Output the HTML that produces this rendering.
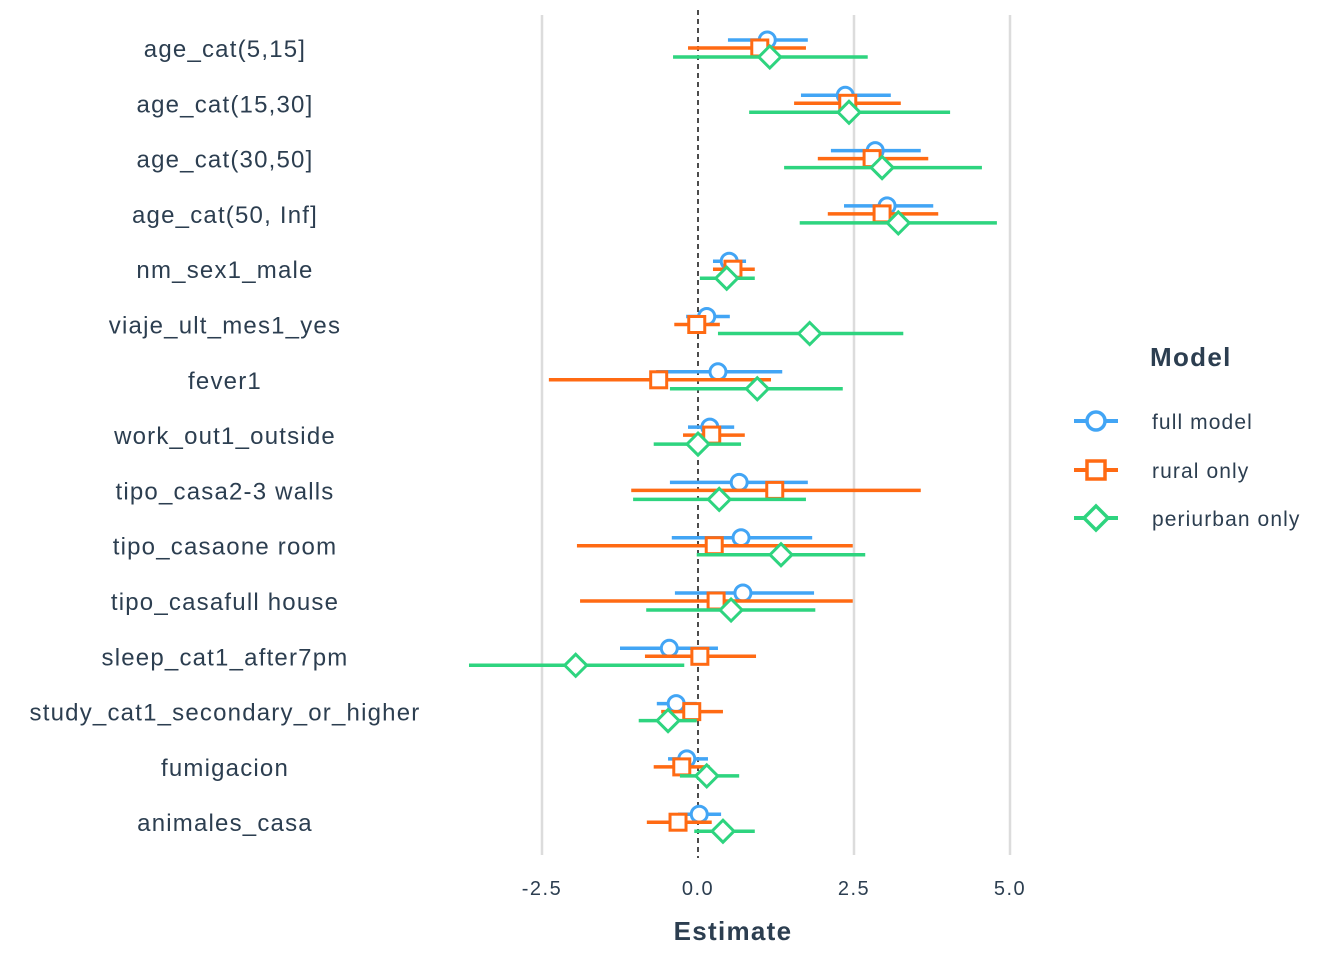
<!DOCTYPE html>
<html><head><meta charset="utf-8"><style>
body{margin:0;background:#fff;}
svg text{font-family:"Liberation Sans",Arial,sans-serif;fill:#2c3e50;}
</style></head><body>
<svg id="chart" width="1344" height="960" xmlns="http://www.w3.org/2000/svg">
<g id="grid"></g><g id="marks"></g><g id="labels"></g>
<text x="733" y="940" text-anchor="middle" font-size="26" font-weight="bold" letter-spacing="1.3">Estimate</text>
<g>
<text x="1150" y="366" font-size="26" font-weight="bold" letter-spacing="1.3">Model</text>
<g>
<line x1="1074" y1="421" x2="1118" y2="421" stroke="#42a5f5" stroke-width="4"/>
<circle cx="1096" cy="421" r="9" fill="#fff" stroke="#42a5f5" stroke-width="3.5"/>
<text x="1152" y="429" font-size="21" letter-spacing="1.1">full model</text></g>
<g>
<line x1="1074" y1="470" x2="1118" y2="470" stroke="#ff6a13" stroke-width="4"/>
<rect x="1087" y="461" width="18" height="18" fill="#fff" stroke="#ff6a13" stroke-width="3.5"/>
<text x="1152" y="478" font-size="21" letter-spacing="1.1">rural only</text></g>
<g>
<line x1="1074" y1="518" x2="1118" y2="518" stroke="#2ed47f" stroke-width="4"/>
<path d="M1096 506 L1108 518 L1096 530 L1084 518 Z" fill="#fff" stroke="#2ed47f" stroke-width="3.5"/>
<text x="1152" y="526" font-size="21" letter-spacing="1.1">periurban only</text></g>
</g>
</svg>
<script>
const terms=["age_cat(5,15]","age_cat(15,30]","age_cat(30,50]","age_cat(50, Inf]","nm_sex1_male","viaje_ult_mes1_yes","fever1","work_out1_outside","tipo_casa2-3 walls","tipo_casaone room","tipo_casafull house","sleep_cat1_after7pm","study_cat1_secondary_or_higher","fumigacion","animales_casa"];
const fullEst=[1.11,2.36,2.84,3.03,0.50,0.14,0.32,0.19,0.66,0.69,0.72,-0.46,-0.35,-0.18,0.02];
const fullLo=[0.48,1.65,2.13,2.34,0.24,-0.19,-0.67,-0.16,-0.45,-0.42,-0.37,-1.25,-0.66,-0.48,-0.32];
const fullHi=[1.76,3.09,3.57,3.77,0.77,0.51,1.35,0.58,1.76,1.83,1.86,0.32,-0.02,0.16,0.37];
const ruralEst=[0.99,2.40,2.79,2.95,0.56,-0.02,-0.63,0.22,1.23,0.26,0.29,0.03,-0.10,-0.26,-0.32];
const ruralLo=[-0.16,1.54,1.92,2.08,0.24,-0.38,-2.39,-0.24,-1.07,-1.94,-1.89,-0.85,-0.59,-0.71,-0.82];
const ruralHi=[1.73,3.25,3.69,3.85,0.91,0.35,1.17,0.75,3.57,2.48,2.48,0.93,0.40,0.19,0.22];
const periEst=[1.15,2.42,2.95,3.21,0.46,1.79,0.95,0.00,0.34,1.33,0.53,-1.96,-0.48,0.14,0.40];
const periLo=[-0.40,0.82,1.38,1.63,0.03,0.32,-0.45,-0.71,-1.04,-0.02,-0.83,-3.67,-0.95,-0.29,-0.06];
const periHi=[2.72,4.04,4.55,4.79,0.91,3.29,2.32,0.69,1.73,2.68,1.88,-0.22,-0.02,0.66,0.91];
const xTicks=[-2.5,0,2.5,5];
const xTickLabels=["-2.5","0.0","2.5","5.0"];
const NS="http://www.w3.org/2000/svg";
const x=v=>698+v*62.4;
const y=i=>49+i*55.3;
function mk(t,a,p){const e=document.createElementNS(NS,t);for(const k in a)e.setAttribute(k,a[k]);p.appendChild(e);return e;}
const grid=document.getElementById('grid'),marks=document.getElementById('marks'),labels=document.getElementById('labels');
xTicks.forEach((t,i)=>{
 if(t!==0){const g=mk('line',{x1:x(t),x2:x(t),y1:15,y2:855,stroke:'#dcdcdc','stroke-width':2.5},grid);
 
 }
 const tl=mk('text',{x:x(t),y:895,'text-anchor':'middle','font-size':20,'letter-spacing':1.5},labels);tl.textContent=xTickLabels[i];
 
 
});
const zl=mk('line',{x1:x(0),x2:x(0),y1:10,y2:858,stroke:'#111','stroke-width':1.5,'stroke-dasharray':'5,4'},grid);


terms.forEach((t,i)=>{
 const tl=mk('text',{x:225,y:y(i)+8,'text-anchor':'middle','font-size':24,'letter-spacing':1.2},labels);tl.textContent=t;
 
 
});
const series=[
 {est:fullEst,lo:fullLo,hi:fullHi,c:'#42a5f5',off:-9,shape:'circle',name:'full-model'},
 {est:ruralEst,lo:ruralLo,hi:ruralHi,c:'#ff6a13',off:-1,shape:'square',name:'rural-only'},
 {est:periEst,lo:periLo,hi:periHi,c:'#2ed47f',off:8,shape:'diamond',name:'periurban-only'}];
series.forEach(s=>{
 s.est.forEach((v,i)=>{
  const yy=y(i)+s.off;
  const g=mk('g',{},marks);
  
  
  mk('line',{x1:x(s.lo[i]),x2:x(s.hi[i]),y1:yy,y2:yy,stroke:s.c,'stroke-width':3.5},g);
  const cx=x(v);
  if(s.shape==='circle')mk('circle',{cx:cx,cy:yy,r:8,fill:'#fff',stroke:s.c,'stroke-width':3},g);
  else if(s.shape==='square')mk('rect',{x:cx-8,y:yy-8,width:16,height:16,fill:'#fff',stroke:s.c,'stroke-width':3},g);
  else mk('path',{d:`M${cx} ${yy-11}L${cx+11} ${yy}L${cx} ${yy+11}L${cx-11} ${yy}Z`,fill:'#fff',stroke:s.c,'stroke-width':3},g);
 });
});
</script>
</body></html>
